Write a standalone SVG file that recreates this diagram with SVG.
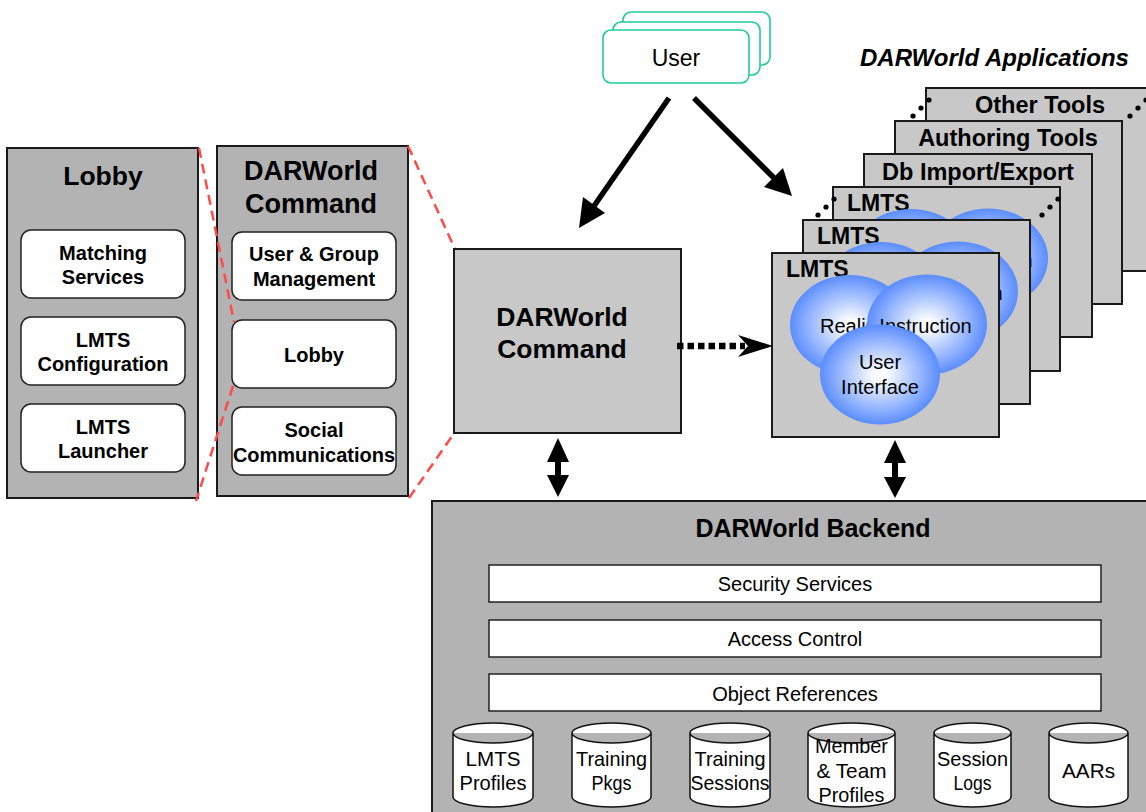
<svg xmlns="http://www.w3.org/2000/svg" xmlns:xlink="http://www.w3.org/1999/xlink" width="1146" height="812" viewBox="0 0 1146 812">
<defs>
<style>
text{font-family:"Liberation Sans",Arial,sans-serif;fill:#000}
.b{font-weight:bold}
.panel{fill:#b3b3b3;stroke:#1a1a1a;stroke-width:2}
.box{fill:#c8c8c8;stroke:#1a1a1a;stroke-width:2}
.wbox{fill:#fff;stroke:#222;stroke-width:1.5}
.row{fill:#fff;stroke:#222;stroke-width:1.5}
.user{fill:#fff;stroke:#1fcb9c;stroke-width:1.6}
.cyl{fill:#fff;stroke:#111;stroke-width:1.5}
.red{fill:none;stroke:#ff4a4a;stroke-width:2.5;stroke-dasharray:10 6}
.ell{fill:url(#blue);stroke:none}
.t20{font-size:20px}
.t21{font-size:21px}
</style>
<radialGradient id="blue" cx="50%" cy="50%" r="50%">
<stop offset="0" stop-color="#ffffff"/>
<stop offset="0.15" stop-color="#f4f7ff"/>
<stop offset="1" stop-color="#5b8dff"/>
</radialGradient>
<g id="lmtsBox">
<rect class="box" x="0" y="0" width="227" height="184"/>
<text class="b" x="14" y="24" font-size="23">LMTS</text>
<ellipse class="ell" cx="78" cy="72" rx="60" ry="50"/>
<text class="t20" x="48" y="80">Realism</text>
<ellipse class="ell" cx="155" cy="71.5" rx="60" ry="50"/>
<text class="t20" x="153.5" y="80" text-anchor="middle">Instruction</text>
<ellipse class="ell" cx="108" cy="121.5" rx="60" ry="50"/>
<text class="t20" x="108" y="116" text-anchor="middle">User</text>
<text class="t20" x="108" y="141" text-anchor="middle">Interface</text>
</g>
</defs>
<rect x="0" y="0" width="1146" height="812" fill="#fff"/>

<g id="lobby-panel">
<rect class="panel" x="7" y="148" width="191" height="350"/>
<text class="b" x="103" y="185" font-size="26.5" text-anchor="middle">Lobby</text>
<g id="matching-services">
<rect class="wbox" x="21" y="230" width="164" height="68" rx="10"/>
<text class="b t20" x="103" y="260" text-anchor="middle">Matching</text>
<text class="b t20" x="103" y="284" text-anchor="middle">Services</text>
</g>
<g id="lmts-configuration">
<rect class="wbox" x="21" y="317" width="164" height="68" rx="10"/>
<text class="b t20" x="103" y="347" text-anchor="middle">LMTS</text>
<text class="b t20" x="103" y="371" text-anchor="middle">Configuration</text>
</g>
<g id="lmts-launcher">
<rect class="wbox" x="21" y="404" width="164" height="68" rx="10"/>
<text class="b t20" x="103" y="434" text-anchor="middle">LMTS</text>
<text class="b t20" x="103" y="458" text-anchor="middle">Launcher</text>
</g>
</g>

<g id="command-panel">
<rect class="panel" x="217" y="146" width="191" height="350"/>
<text class="b" x="311" y="180" font-size="27" text-anchor="middle">DARWorld</text>
<text class="b" x="311" y="213" font-size="27" text-anchor="middle">Command</text>
<g id="user-group">
<rect class="wbox" x="232" y="232" width="164" height="68" rx="10"/>
<text class="b t20" x="314" y="261" text-anchor="middle">User &amp; Group</text>
<text class="b t20" x="314" y="286" text-anchor="middle">Management</text>
</g>
<g id="cmd-lobby">
<rect class="wbox" x="232" y="320" width="164" height="68" rx="10"/>
<text class="b t20" x="314" y="362" text-anchor="middle">Lobby</text>
</g>
<g id="social">
<rect class="wbox" x="232" y="407" width="164" height="68" rx="10"/>
<text class="b t20" x="314" y="437" text-anchor="middle">Social</text>
<text class="b t20" x="314" y="462" text-anchor="middle">Communications</text>
</g>
</g>

<!-- zoom guide lines -->
<g id="guides">
<line class="red" x1="199" y1="148" x2="234" y2="322"/>
<line class="red" x1="233" y1="386" x2="196" y2="501"/>
<line class="red" x1="408" y1="146" x2="455" y2="249"/>
<line class="red" x1="409" y1="498" x2="455" y2="432"/>
</g>

<g id="user">
<rect class="user" x="623" y="12" width="147" height="53" rx="8"/>
<rect class="user" x="613" y="22" width="147" height="53" rx="8"/>
<rect class="user" x="603" y="30" width="146" height="53" rx="8"/>
<text x="676" y="66" font-size="23" text-anchor="middle">User</text>
</g>

<g id="darworld-command">
<rect class="box" x="454" y="249" width="227" height="184"/>
<text class="b" x="562" y="326" font-size="26.5" text-anchor="middle">DARWorld</text>
<text class="b" x="562" y="358" font-size="26.5" text-anchor="middle">Command</text>
</g>

<text id="apps-title" class="b" x="860" y="66" font-size="24" font-style="italic">DARWorld Applications</text>

<g id="other-tools">
<rect class="box" x="926" y="88" width="228" height="183"/>
<text class="b" x="1040" y="113" font-size="23.5" text-anchor="middle">Other Tools</text>
</g>
<g id="authoring-tools">
<rect class="box" x="895" y="121" width="227" height="183"/>
<text class="b" x="1008" y="146" font-size="23.5" text-anchor="middle">Authoring Tools</text>
</g>
<g id="db-import-export">
<rect class="box" x="864" y="154" width="228" height="183"/>
<text class="b" x="978" y="180" font-size="23.5" text-anchor="middle">Db Import/Export</text>
</g>
<g id="lmts-3"><use xlink:href="#lmtsBox" href="#lmtsBox" x="833" y="187"/></g>
<g id="lmts-2"><use xlink:href="#lmtsBox" href="#lmtsBox" x="803" y="220"/></g>
<g id="lmts-1"><use xlink:href="#lmtsBox" href="#lmtsBox" x="772" y="253"/></g>

<g id="ellipsis-dots" fill="#000">
<circle cx="913" cy="116" r="2.6"/><circle cx="921" cy="108" r="2.6"/><circle cx="929" cy="100" r="2.6"/>
<circle cx="1130" cy="116" r="2.6"/><circle cx="1138" cy="108" r="2.6"/><circle cx="1146" cy="100" r="2.6"/>
<circle cx="818" cy="215" r="2.6"/><circle cx="826" cy="207" r="2.6"/><circle cx="834" cy="199" r="2.6"/>
<circle cx="1042" cy="215" r="2.6"/><circle cx="1050" cy="207" r="2.6"/><circle cx="1058" cy="199" r="2.6"/>
</g>

<g id="backend">
<rect class="panel" x="432" y="501" width="720" height="320"/>
<text class="b" x="813" y="537" font-size="25" text-anchor="middle">DARWorld Backend</text>
<g id="security-services">
<rect class="row" x="489" y="565" width="612" height="37"/>
<text class="t20" x="795" y="591" text-anchor="middle">Security Services</text>
</g>
<g id="access-control">
<rect class="row" x="489" y="620" width="612" height="37"/>
<text class="t20" x="795" y="646" text-anchor="middle">Access Control</text>
</g>
<g id="object-references">
<rect class="row" x="489" y="674" width="612" height="37"/>
<text class="t20" x="795" y="701" text-anchor="middle">Object References</text>
</g>
<g id="cyl-lmts-profiles">
<path class="cyl" d="M453,733 A40,10 0 0 1 533,733 V797 A40,10 0 0 1 453,797 Z M453,733 A40,10 0 0 0 533,733"/>
<text class="t21" x="493" y="766" text-anchor="middle" textLength="55" lengthAdjust="spacingAndGlyphs">LMTS</text>
<text class="t21" x="493" y="790" text-anchor="middle" textLength="67" lengthAdjust="spacingAndGlyphs">Profiles</text>
</g>
<g id="cyl-training-pkgs">
<path class="cyl" d="M572,733 A39.5,10 0 0 1 651,733 V797 A39.5,10 0 0 1 572,797 Z M572,733 A39.5,10 0 0 0 651,733"/>
<text class="t21" x="611.5" y="766" text-anchor="middle" textLength="71" lengthAdjust="spacingAndGlyphs">Training</text>
<text class="t21" x="611.5" y="790" text-anchor="middle" textLength="40" lengthAdjust="spacingAndGlyphs">Pkgs</text>
</g>
<g id="cyl-training-sessions">
<path class="cyl" d="M690,733 A40,10 0 0 1 770,733 V797 A40,10 0 0 1 690,797 Z M690,733 A40,10 0 0 0 770,733"/>
<text class="t21" x="730" y="766" text-anchor="middle" textLength="71" lengthAdjust="spacingAndGlyphs">Training</text>
<text class="t21" x="730" y="790" text-anchor="middle" textLength="79" lengthAdjust="spacingAndGlyphs">Sessions</text>
</g>
<g id="cyl-member-team">
<path class="cyl" d="M808,733 A43.5,10 0 0 1 895,733 V797 A43.5,10 0 0 1 808,797 Z M808,733 A43.5,10 0 0 0 895,733"/>
<text class="t21" x="851.5" y="753" text-anchor="middle" textLength="73" lengthAdjust="spacingAndGlyphs">Member</text>
<text class="t21" x="851.5" y="778" text-anchor="middle" textLength="70" lengthAdjust="spacingAndGlyphs">&amp; Team</text>
<text class="t21" x="851.5" y="802" text-anchor="middle" textLength="66" lengthAdjust="spacingAndGlyphs">Profiles</text>
</g>
<g id="cyl-session-logs">
<path class="cyl" d="M934,733 A38.5,10 0 0 1 1011,733 V797 A38.5,10 0 0 1 934,797 Z M934,733 A38.5,10 0 0 0 1011,733"/>
<text class="t21" x="972.5" y="766" text-anchor="middle" textLength="71" lengthAdjust="spacingAndGlyphs">Session</text>
<text class="t21" x="972.5" y="790" text-anchor="middle" textLength="38" lengthAdjust="spacingAndGlyphs">Logs</text>
</g>
<g id="cyl-aars">
<path class="cyl" d="M1049,733 A39.5,10 0 0 1 1128,733 V797 A39.5,10 0 0 1 1049,797 Z M1049,733 A39.5,10 0 0 0 1128,733"/>
<text class="t21" x="1088.5" y="778" text-anchor="middle" textLength="53" lengthAdjust="spacingAndGlyphs">AARs</text>
</g>
</g>

<g id="connectors" fill="#000" stroke="none">
<line x1="669" y1="98" x2="594" y2="206" stroke="#000" stroke-width="5.5"/>
<polygon points="579,228 605,213 583,197"/>
<line x1="694" y1="98" x2="775" y2="179" stroke="#000" stroke-width="5.5"/>
<polygon points="792,196 764,187 783,168"/>
<line x1="677" y1="346" x2="745" y2="346" stroke="#000" stroke-width="6.5" stroke-dasharray="6.5 4"/>
<polygon points="773,346 738,335 748,346 738,357"/>
<rect x="555" y="458" width="6" height="22"/>
<polygon points="558,438 569,462 547,462"/>
<polygon points="558,497 569,475 547,475"/>
<rect x="892" y="460" width="6" height="20"/>
<polygon points="895,440 906,463 884,463"/>
<polygon points="895,498 906,477 884,477"/>
</g>
</svg>
